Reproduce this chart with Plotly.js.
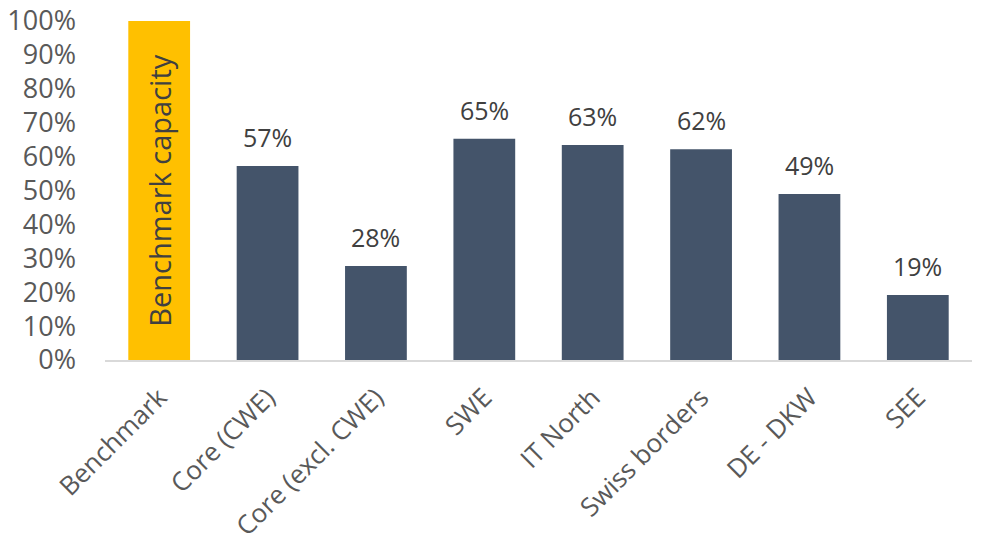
<!DOCTYPE html>
<html>
<head>
<meta charset="utf-8">
<script src="https://cdn.plot.ly/plotly-3.0.1.min.js"></script>
<style>html,body{margin:0;padding:0;background:#fff;}#chart{width:992px;height:540px;}</style>
</head>
<body>
<div id="chart"></div>
<script>
const categories = ["Benchmark", "Core (CWE)", "Core (excl. CWE)", "SWE", "IT North", "Swiss borders", "DE - DKW", "SEE"];
const values = [1.0, 0.572, 0.277, 0.653, 0.634, 0.622, 0.49, 0.192];
const barColors = ["#FFC000", "#44546A", "#44546A", "#44546A", "#44546A", "#44546A", "#44546A", "#44546A"];
const benchmarkText = "Benchmark capacity";
const yTicks = [0, 0.1, 0.2, 0.3, 0.4, 0.5, 0.6, 0.7, 0.8, 0.9, 1.0];

const FONT = "Open Sans, sans-serif";
const barText = categories.map((c, i) => i === 0 ? benchmarkText : "");

const trace = {
  type: "bar",
  x: categories,
  y: values,
  marker: {color: barColors},
  text: barText,
  textposition: "inside",
  insidetextanchor: "middle",
  textangle: -90,
  insidetextfont: {family: FONT, size: 29, color: "#404040"},
  hoverinfo: "x+y",
  cliponaxis: false
};

const annotations = categories.map((c, i) => i === 0 ? null : ({
  x: c, y: values[i], xref: "x", yref: "y",
  text: Math.round(values[i] * 100) + "%",
  showarrow: false, yanchor: "bottom", yshift: 10,
  font: {family: FONT, size: 25, color: "#404040"}
})).filter(a => a);

const layout = {
  width: 992, height: 540,
  margin: {l: 105, r: 20, t: 21, b: 180},
  paper_bgcolor: "#ffffff", plot_bgcolor: "#ffffff",
  showlegend: false,
  bargap: 0.43,
  font: {family: FONT, color: "#595959"},
  xaxis: {
    type: "category",
    tickangle: -45,
    tickfont: {family: FONT, size: 26, color: "#595959"},
    showline: true, linecolor: "#d9d9d9", linewidth: 2,
    showgrid: false, zeroline: false, ticks: "",
    ticklabelstandoff: 10,
    automargin: false
  },
  yaxis: {
    range: [0, 1],
    tickvals: yTicks,
    tickformat: ".0%",
    tickfont: {family: FONT, size: 27, color: "#595959"},
    showgrid: false, zeroline: false, showline: false, ticks: "",
    ticklabelstandoff: 28,
    automargin: false
  },
  annotations: annotations
};

Plotly.newPlot("chart", [trace], layout, {displayModeBar: false, staticPlot: true});
</script>
</body>
</html>
